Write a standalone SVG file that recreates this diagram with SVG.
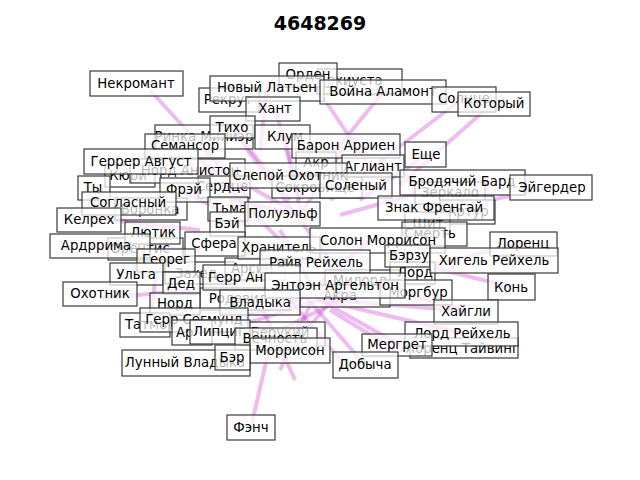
<svg xmlns="http://www.w3.org/2000/svg" width="640" height="480" viewBox="0 0 640 480">
<style>
.e{stroke:#d24fd2;stroke-opacity:0.38;stroke-width:4;fill:none}
.n rect{fill:#fff;fill-opacity:0.72;stroke:#3a3a3a;stroke-width:1.2}
.n text{font-family:"DejaVu Sans",sans-serif;font-size:13.3px;fill:#000;text-anchor:middle}
.n text.s{text-anchor:start}
.t{font-family:"DejaVu Sans",sans-serif;font-size:19px;font-weight:bold;text-anchor:middle}
</style>
<rect width="640" height="480" fill="#fff"/>
<text class="t" x="320" y="30">4648269</text>
<g id="edges">
<line class="e" x1="150" y1="90" x2="250" y2="200"/>
<line class="e" x1="251" y1="427" x2="270" y2="345"/>
<line class="e" x1="493" y1="103" x2="400" y2="185"/>
<line class="e" x1="463" y1="98" x2="330" y2="200"/>
<line class="e" x1="308" y1="75" x2="365" y2="160"/>
<line class="e" x1="383" y1="92" x2="320" y2="170"/>
<line class="e" x1="553" y1="187" x2="420" y2="215"/>
<line class="e" x1="523" y1="243" x2="420" y2="268"/>
<line class="e" x1="511" y1="287" x2="410" y2="262"/>
<line class="e" x1="466" y1="311" x2="330" y2="300"/>
<line class="e" x1="466" y1="311" x2="360" y2="280"/>
<line class="e" x1="320" y1="300" x2="400" y2="345"/>
<line class="e" x1="320" y1="300" x2="462" y2="333"/>
<line class="e" x1="300" y1="290" x2="365" y2="365"/>
<line class="e" x1="340" y1="290" x2="290" y2="350"/>
<line class="e" x1="360" y1="290" x2="240" y2="350"/>
<line class="e" x1="320" y1="300" x2="210" y2="335"/>
<line class="e" x1="290" y1="300" x2="340" y2="360"/>
<line class="e" x1="260" y1="303" x2="295" y2="380"/>
<line class="e" x1="155" y1="280" x2="150" y2="330"/>
<line class="e" x1="230" y1="200" x2="300" y2="215"/>
<line class="e" x1="220" y1="170" x2="300" y2="215"/>
<line class="e" x1="180" y1="190" x2="250" y2="225"/>
<line class="e" x1="285" y1="136" x2="300" y2="210"/>
<line class="e" x1="232" y1="127" x2="290" y2="200"/>
<line class="e" x1="275" y1="108" x2="300" y2="200"/>
<line class="e" x1="267" y1="87" x2="260" y2="150"/>
<line class="e" x1="346" y1="145" x2="300" y2="215"/>
<line class="e" x1="426" y1="155" x2="360" y2="200"/>
<line class="e" x1="462" y1="181" x2="340" y2="215"/>
<line class="e" x1="90" y1="218" x2="200" y2="230"/>
<line class="e" x1="96" y1="246" x2="200" y2="250"/>
<line class="e" x1="280" y1="230" x2="320" y2="300"/>
<line class="e" x1="370" y1="240" x2="300" y2="300"/>
<line class="e" x1="190" y1="330" x2="300" y2="300"/>
<line class="e" x1="100" y1="298" x2="200" y2="290"/>
<line class="e" x1="240" y1="140" x2="330" y2="260"/>
<line class="e" x1="200" y1="160" x2="280" y2="240"/>
<line class="e" x1="330" y1="310" x2="395" y2="350"/>
<line class="e" x1="310" y1="305" x2="280" y2="370"/>
</g>
<g id="n-arh" class="n"><rect x="317" y="69" width="85" height="25"/><text x="350" y="85">Архиуста</text></g>
<g id="n-rekrut" class="n"><rect x="199" y="88" width="60" height="24"/><text x="228" y="104">Рекрут</text></g>
<g id="n-rinka" class="n"><rect x="155" y="125" width="98" height="24"/><text x="204" y="141">Ринка Милиэр</text></g>
<g id="n-kyuri" class="n"><rect x="105" y="165" width="50" height="22"/><text x="128" y="180">Кюри</text></g>
<g id="n-nord-an" class="n"><rect x="130" y="159" width="115" height="24"/><text x="190" y="175">Норд Анистон</text></g>
<g id="n-serdce" class="n"><rect x="198" y="176" width="52" height="22"/><text x="222" y="191">Сердце</text></g>
<g id="n-sokr" class="n"><rect x="272" y="176" width="90" height="22"/><text x="315" y="192">Сокровище</text></g>
<g id="n-akr" class="n"><rect x="296" y="152" width="40" height="22"/><text x="316" y="167">Акр</text></g>
<g id="n-zerk" class="n"><rect x="415" y="182" width="70" height="22"/><text x="450" y="197">Зеркало</text></g>
<g id="n-voronka" class="n"><rect x="115" y="198" width="72" height="22"/><text x="150" y="214">Воронка</text></g>
<g id="n-artur" class="n"><rect x="440" y="200" width="55" height="24"/><text x="468" y="216">Артур</text></g>
<g id="n-shchit" class="n"><rect x="405" y="212" width="45" height="22"/><text x="428" y="228">Щит</text></g>
<g id="n-smert" class="n"><rect x="402" y="222" width="65" height="24"/><text x="430" y="238">Смерть</text></g>
<g id="n-orentis" class="n"><rect x="108" y="238" width="75" height="22"/><text x="140" y="253">Орентис</text></g>
<g id="n-zahed" class="n"><rect x="165" y="262" width="70" height="22"/><text x="196" y="278">Захед</text></g>
<g id="n-arsin" class="n"><rect x="225" y="258" width="60" height="22"/><text x="252" y="273">Арсин</text></g>
<g id="n-milord" class="n"><rect x="325" y="270" width="75" height="22"/><text x="360" y="285">Милорд</text></g>
<g id="n-lord" class="n"><rect x="390" y="262" width="45" height="22"/><text x="415" y="277">Лорд</text></g>
<g id="n-akra" class="n"><rect x="300" y="285" width="90" height="22"/><text x="340" y="300">Акра</text></g>
<g id="n-rodevil" class="n"><rect x="200" y="288" width="90" height="22"/><text x="238" y="303">Родевил</text></g>
<g id="n-beruk" class="n"><rect x="240" y="322" width="85" height="24"/><text x="280" y="337">Берукий</text></g>
<g id="n-tayving" class="n"><rect x="410" y="338" width="108" height="20"/><text x="462" y="353">Лоренц Тайвинг</text></g>
<g id="n-morgbur" class="n"><rect x="380" y="280" width="72" height="25"/><text x="418" y="297">Моргбур</text></g>
<g id="n-orden" class="n"><rect x="279" y="63" width="58" height="24"/><text x="308" y="79">Орден</text></g>
<g id="n-novy" class="n"><rect x="210" y="76" width="114" height="25"/><text x="267" y="92">Новый Латьен</text></g>
<g id="n-voyna" class="n"><rect x="320" y="80" width="126" height="24"/><text x="383" y="96">Война Аламонт</text></g>
<g id="n-solnce" class="n"><rect x="432" y="87" width="64" height="25"/><text x="464" y="103">Солнце</text></g>
<g id="n-kotory" class="n"><rect x="458" y="92" width="72" height="24"/><text x="494" y="108">Который</text></g>
<g id="n-nekr" class="n"><rect x="90" y="71" width="93" height="25"/><text x="136" y="88">Некромант</text></g>
<g id="n-hant" class="n"><rect x="246" y="97" width="54" height="24"/><text x="275" y="113">Хант</text></g>
<g id="n-tiho" class="n"><rect x="210" y="116" width="45" height="22"/><text x="232" y="132">Тихо</text></g>
<g id="n-klum" class="n"><rect x="255" y="125" width="55" height="24"/><text x="285" y="141">Клум</text></g>
<g id="n-semansor" class="n"><rect x="145" y="134" width="80" height="24"/><text x="185" y="150">Семансор</text></g>
<g id="n-baron" class="n"><rect x="292" y="134" width="108" height="24"/><text x="346" y="150">Барон Арриен</text></g>
<g id="n-agliant" class="n"><rect x="342" y="155" width="62" height="22"/><text x="373" y="171">Аглиант</text></g>
<g id="n-eshche" class="n"><rect x="405" y="142" width="41" height="25"/><text x="426" y="159">Еще</text></g>
<g id="n-gerrer" class="n"><rect x="84" y="149" width="114" height="25"/><text x="141" y="166">Геррер Август</text></g>
<g id="n-slepoy" class="n"><rect x="230" y="163" width="117" height="25"/><text x="290" y="180">Слепой Охотник</text></g>
<g id="n-ty" class="n"><rect x="78" y="176" width="32" height="24"/><text x="93" y="192">Ты</text></g>
<g id="n-frey" class="n"><rect x="160" y="178" width="50" height="24"/><text x="184" y="194">Фрэй</text></g>
<g id="n-soleny" class="n"><rect x="320" y="173" width="72" height="25"/><text x="356" y="190">Соленый</text></g>
<g id="n-brod" class="n"><rect x="400" y="170" width="125" height="25"/><text x="462" y="186">Бродячий Бард</text></g>
<g id="n-eyg" class="n"><rect x="510" y="175" width="82" height="25"/><text x="552" y="192">Эйгердер</text></g>
<g id="n-soglas" class="n"><rect x="82" y="192" width="94" height="23"/><text x="128" y="207">Согласный</text></g>
<g id="n-znak" class="n"><rect x="378" y="196" width="116" height="24"/><text x="434" y="212">Знак Френгай</text></g>
<g id="n-kelreh" class="n"><rect x="57" y="208" width="64" height="24"/><text x="89" y="224">Келрех</text></g>
<g id="n-tma" class="n"><rect x="208" y="197" width="40" height="24"/><text x="230" y="213">Тьма</text></g>
<g id="n-bey" class="n"><rect x="210" y="212" width="35" height="24"/><text x="227" y="228">Бэй</text></g>
<g id="n-polu" class="n"><rect x="245" y="202" width="75" height="24"/><text x="283" y="218">Полуэльф</text></g>
<g id="n-lyutik" class="n"><rect x="125" y="222" width="55" height="22"/><text x="153" y="237">Лютик</text></g>
<g id="n-sfera" class="n"><rect x="185" y="232" width="60" height="24"/><text x="214" y="248">Сфера</text></g>
<g id="n-ardr" class="n"><rect x="50" y="234" width="100" height="24"/><text x="96" y="250">Ардррима</text></g>
<g id="n-hran" class="n"><rect x="238" y="237" width="82" height="22"/><text x="279" y="252">Хранитель</text></g>
<g id="n-solon" class="n"><rect x="310" y="228" width="135" height="25"/><text x="378" y="245">Солон Моррисон</text></g>
<g id="n-lorenc" class="n"><rect x="490" y="232" width="67" height="24"/><text x="523" y="248">Лоренц</text></g>
<g id="n-georeg" class="n"><rect x="137" y="249" width="58" height="23"/><text x="166" y="264">Георег</text></g>
<g id="n-rayv" class="n"><rect x="260" y="250" width="110" height="23"/><text x="316" y="267">Райв Рейхель</text></g>
<g id="n-berzu" class="n"><rect x="385" y="245" width="45" height="22"/><text x="409" y="260">Бэрзу</text></g>
<g id="n-higel" class="n"><rect x="430" y="248" width="128" height="25"/><text x="494" y="265">Хигель Рейхель</text></g>
<g id="n-ulga" class="n"><rect x="110" y="263" width="53" height="22"/><text x="136" y="279">Ульга</text></g>
<g id="n-ded" class="n"><rect x="163" y="272" width="37" height="22"/><text x="181" y="288">Дед</text></g>
<g id="n-gerr-an" class="n"><rect x="203" y="265" width="97" height="25"/><text class="s" x="208" y="282">Герр Ан</text></g>
<g id="n-entoen" class="n"><rect x="265" y="273" width="140" height="25"/><text x="335" y="290">Энтоэн Аргельтон</text></g>
<g id="n-kon" class="n"><rect x="488" y="274" width="47" height="26"/><text x="511" y="292">Конь</text></g>
<g id="n-ohotnik" class="n"><rect x="63" y="282" width="74" height="24"/><text x="100" y="298">Охотник</text></g>
<g id="n-nord" class="n"><rect x="150" y="293" width="50" height="22"/><text x="175" y="308">Норд</text></g>
<g id="n-vladyka" class="n"><rect x="220" y="290" width="80" height="25"/><text x="260" y="307">Владыка</text></g>
<g id="n-haygli" class="n"><rect x="434" y="300" width="64" height="24"/><text x="466" y="316">Хайгли</text></g>
<g id="n-tatmor" class="n"><rect x="120" y="313" width="50" height="24"/><text class="s" x="125" y="329">Татмор</text></g>
<g id="n-segm" class="n"><rect x="140" y="308" width="108" height="24"/><text x="194" y="324">Герр Сегмунд</text></g>
<g id="n-ar" class="n"><rect x="172" y="320" width="40" height="25"/><text class="s" x="176" y="337">Ар</text></g>
<g id="n-lipcig" class="n"><rect x="190" y="320" width="60" height="24"/><text x="219" y="336">Липциг</text></g>
<g id="n-vechn" class="n"><rect x="235" y="328" width="82" height="22"/><text x="275" y="343">Вечность</text></g>
<g id="n-lord-r" class="n"><rect x="405" y="322" width="113" height="24"/><text x="462" y="338">Лорд Рейхель</text></g>
<g id="n-mergret" class="n"><rect x="362" y="334" width="70" height="22"/><text x="397" y="349">Мергрет</text></g>
<g id="n-morrison" class="n"><rect x="250" y="338" width="80" height="25"/><text x="290" y="355">Моррисон</text></g>
<g id="n-lunny" class="n"><rect x="122" y="350" width="128" height="26"/><text x="185" y="367">Лунный Владыка</text></g>
<g id="n-ber" class="n"><rect x="215" y="345" width="35" height="25"/><text x="232" y="362">Бэр</text></g>
<g id="n-dobycha" class="n"><rect x="333" y="352" width="65" height="26"/><text x="365" y="369">Добыча</text></g>
<g id="n-fench" class="n"><rect x="227" y="415" width="48" height="25"/><text x="251" y="432">Фэнч</text></g>
</svg>
